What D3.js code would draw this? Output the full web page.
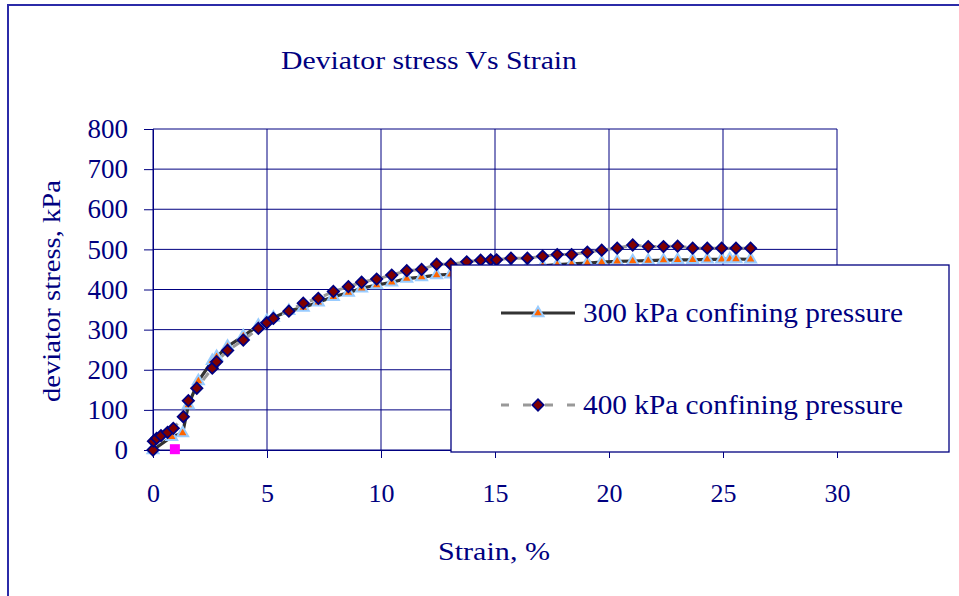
<!DOCTYPE html>
<html>
<head>
<meta charset="utf-8">
<script src="https://cdn.jsdelivr.net/npm/d3@7"></script>
<style>
  html, body { margin: 0; padding: 0; background: #fff; }
  svg { display: block; }
</style>
</head>
<body>
<svg id="chart" width="959" height="596"></svg>
<script>
// ---- data ----
const xTicks = [0, 5, 10, 15, 20, 25, 30];
const yTicks = [0, 100, 200, 300, 400, 500, 600, 700, 800];
const seriesNames = ["300 kPa confining pressure", "400 kPa confining pressure"];

const strain300 = [0, 0.82, 1.30, 1.55, 1.99, 2.60, 2.79, 3.27, 3.96, 4.62, 4.99, 5.28, 5.96, 6.59, 7.25, 7.91, 8.57, 9.15, 9.81, 10.47, 11.13, 11.78, 12.44, 13.06, 13.76, 14.37, 15.07, 15.7, 16.42, 17.09, 17.73, 18.36, 19.05, 19.68, 20.36, 21.04, 21.72, 22.39, 23.01, 23.67, 24.31, 24.94, 25.3, 25.57, 26.21];
const stress300 = [0, 33, 42, 112, 172, 222, 232, 258, 284, 310, 322, 330, 347, 355, 368, 382, 392, 403, 411, 418, 427, 431, 436, 438, 442, 446, 450, 453, 456, 459, 462, 464, 466, 468, 470, 471, 472, 473, 474, 474, 475, 475, 476, 476, 475];

const strain400 = [0, 0.02, 0.16, 0.35, 0.64, 0.89, 1.33, 1.55, 1.92, 2.60, 2.79, 3.27, 3.96, 4.62, 4.99, 5.28, 5.96, 6.59, 7.25, 7.91, 8.57, 9.15, 9.81, 10.47, 11.13, 11.78, 12.44, 13.06, 13.76, 14.37, 14.81, 15.07, 15.7, 16.42, 17.09, 17.73, 18.36, 19.05, 19.68, 20.36, 21.04, 21.72, 22.39, 23.01, 23.67, 24.31, 24.94, 25.57, 26.21];
const stress400 = [0, 22, 29, 36, 44, 54, 83, 123, 154, 204, 220, 248, 274, 303, 317, 328, 346, 366, 378, 395, 407, 418, 426, 436, 447, 450, 463, 463, 469, 473, 474, 474, 478, 478, 483, 487, 487, 493, 498, 503, 511, 507, 507, 508, 503, 503, 503, 503, 503];

const extraStrain = [0.96];
const extraStress = [2];

// ---- font pick: first installed serif candidate ----
function pickFont(cands, fallback) {
  const c = document.createElement("canvas").getContext("2d");
  const probe = "Deviator stress Vs Strain 0123456789";
  for (const f of cands) {
    let differs = false;
    for (const base of ["monospace", "sans-serif"]) {
      c.font = `72px ${base}`;
      const w0 = c.measureText(probe).width;
      c.font = `72px "${f}", ${base}`;
      const w1 = c.measureText(probe).width;
      if (Math.abs(w1 - w0) > 0.5) differs = true;
    }
    if (differs) return `"${f}", serif`;
  }
  return fallback;
}
const FONT = pickFont(["Liberation Serif", "Tinos", "Times New Roman", "Nimbus Roman", "FreeSerif", "Noto Serif", "DejaVu Serif"], "serif");

// ---- layout ----
const svg = d3.select("#chart");
const navy = "#000080";
const x = d3.scaleLinear().domain([0, 30]).range([153, 837]);
const y = d3.scaleLinear().domain([0, 800]).range([450, 129]);

// outer frame (only left & top visible)
svg.append("rect").attr("x", 8).attr("y", 5).attr("width", 1200).attr("height", 1200)
  .attr("fill", "none").attr("stroke", "#2b2ba8").attr("stroke-width", 2);

const txt = sel => sel.style("font-family", FONT).style("fill", navy);

// title
svg.append("text").attr("x", 429).attr("y", 69).attr("text-anchor", "middle")
  .attr("font-size", 25).attr("textLength", 296).attr("lengthAdjust", "spacingAndGlyphs")
  .call(txt).text("Deviator stress Vs Strain");

// gridlines
const grid = svg.append("g");
grid.selectAll("line.h").data(yTicks).join("line").attr("class", "h")
  .attr("x1", x(0)).attr("x2", x(30)).attr("y1", d => y(d)).attr("y2", d => y(d))
  .attr("stroke", navy).attr("stroke-width", 1);
grid.selectAll("line.v").data(xTicks).join("line").attr("class", "v")
  .attr("x1", d => x(d)).attr("x2", d => x(d)).attr("y1", y(800)).attr("y2", y(0))
  .attr("stroke", navy).attr("stroke-width", 1);

// axes
const yAxis = d3.axisLeft(y).tickValues(yTicks).tickSize(9).tickPadding(16);
const gy = svg.append("g").attr("transform", `translate(${x(0)},0)`).call(yAxis);
gy.select(".domain").attr("stroke", navy);
gy.selectAll(".tick line").attr("stroke", navy);
gy.selectAll(".tick text").attr("font-size", 27).call(txt);

const xAxis = d3.axisBottom(x).tickValues(xTicks).tickSize(8).tickPadding(26);
const gx = svg.append("g").attr("transform", `translate(0,${y(0)})`).call(xAxis);
gx.select(".domain").attr("stroke", navy);
gx.selectAll(".tick line").attr("stroke", navy);
gx.selectAll(".tick text").attr("font-size", 26).call(txt);

// axis titles
svg.append("text").attr("transform", "translate(60,291) rotate(-90)").attr("text-anchor", "middle")
  .attr("font-size", 26).attr("textLength", 222).attr("lengthAdjust", "spacingAndGlyphs")
  .call(txt).text("deviator stress, kPa");
svg.append("text").attr("x", 494).attr("y", 560).attr("text-anchor", "middle")
  .attr("font-size", 26).attr("textLength", 112).attr("lengthAdjust", "spacingAndGlyphs")
  .call(txt).text("Strain, %");

// series
const s300 = strain300.map((d, i) => [d, stress300[i]]);
const s400 = strain400.map((d, i) => [d, stress400[i]]);
const line = d3.line().x(d => x(d[0])).y(d => y(d[1]));

const tri = d3.symbol().type(d3.symbolTriangle).size(52);
const dia = d3.symbol().type(d3.symbolSquare).size(64);
const sq = d3.symbol().type(d3.symbolSquare).size(100);

svg.append("path").datum(s300).attr("d", line).attr("fill", "none")
  .attr("stroke", "#333333").attr("stroke-width", 3.2);
svg.append("g").selectAll("path").data(s300).join("path")
  .attr("d", tri).attr("transform", d => `translate(${x(d[0])},${y(d[1])})`)
  .attr("fill", "#ff6600").attr("stroke", "#99ccff").attr("stroke-width", 2);

svg.append("path").datum(s400).attr("d", line).attr("fill", "none")
  .attr("stroke", "#999999").attr("stroke-width", 3).attr("stroke-dasharray", "9,6");
svg.append("g").selectAll("path").data(s400).join("path")
  .attr("d", dia).attr("transform", d => `translate(${x(d[0])},${y(d[1])}) rotate(45)`)
  .attr("fill", "#800000").attr("stroke", navy).attr("stroke-width", 1.8);

svg.append("g").selectAll("path").data(extraStrain.map((d, i) => [d, extraStress[i]])).join("path")
  .attr("d", sq).attr("transform", d => `translate(${x(d[0])},${y(d[1])})`)
  .attr("fill", "#ff00ff");

// legend
const lg = svg.append("g");
lg.append("rect").attr("x", 451).attr("y", 265).attr("width", 498).attr("height", 187)
  .attr("fill", "#fff").attr("stroke", navy).attr("stroke-width", 1.3);
const legendY = [313, 405];
lg.append("line").attr("x1", 501).attr("x2", 575).attr("y1", legendY[0]).attr("y2", legendY[0])
  .attr("stroke", "#333333").attr("stroke-width", 3.2);
lg.append("path").attr("d", tri).attr("transform", `translate(538,${legendY[0]})`)
  .attr("fill", "#ff6600").attr("stroke", "#99ccff").attr("stroke-width", 2);
lg.append("line").attr("x1", 501).attr("x2", 577).attr("y1", legendY[1]).attr("y2", legendY[1])
  .attr("stroke", "#999999").attr("stroke-width", 3).attr("stroke-dasharray", "8,14");
lg.append("path").attr("d", dia).attr("transform", `translate(538,${legendY[1]}) rotate(45)`)
  .attr("fill", "#800000").attr("stroke", navy).attr("stroke-width", 1.8);
lg.selectAll("text").data(seriesNames).join("text")
  .attr("x", 583).attr("y", (d, i) => legendY[i] + 9)
  .attr("font-size", 27).attr("textLength", 320).attr("lengthAdjust", "spacingAndGlyphs")
  .call(txt).text(d => d);
</script>
</body>
</html>
